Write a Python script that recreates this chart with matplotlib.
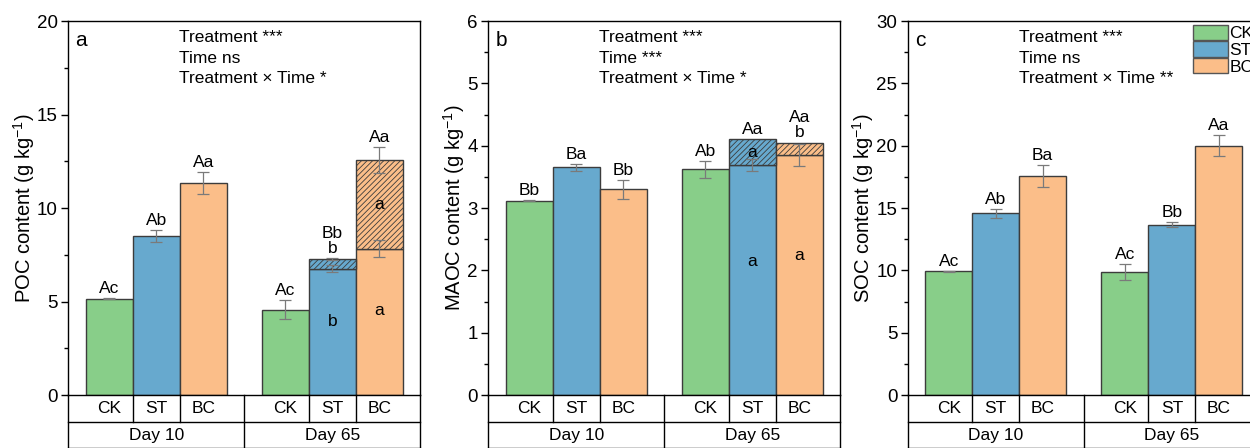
import numpy as np
import matplotlib.pyplot as plt
from matplotlib.patches import Patch
from matplotlib.ticker import MultipleLocator

plt.rcParams['font.family'] = ['Liberation Sans', 'DejaVu Sans']
plt.rcParams['mathtext.fontset'] = 'custom'
plt.rcParams['mathtext.rm'] = 'Liberation Sans'
plt.rcParams['mathtext.it'] = 'Liberation Sans:italic'
plt.rcParams['hatch.linewidth'] = 0.6

treatments = ["CK", "ST", "BC"]
days = ["Day 10", "Day 65"]
colors = ["#88CE89", "#67A9CE", "#FBBE89"]
edge = "#3c3c3c"
errc = "#7a7a7a"

# POC
poc_d10 = [5.16, 8.50, 11.32]
poc_d10_err = [0.03, 0.30, 0.58]
poc_d65_base = [4.57, 6.76, 7.82]
poc_d65_base_err = [0.50, 0.18, 0.46]
poc_d65_total = [4.57, 7.29, 12.57]
poc_d65_total_err = [0.0, 0.05, 0.70]
poc_lab_d10 = ["Ac", "Ab", "Aa"]
poc_lab_d65 = ["Ac", "Bb\nb", "Aa"]
poc_in_base = ["", "b", "a"]
poc_in_hatch = ["", "", "a"]
poc_stats = ["Treatment ***", "Time ns", "Treatment \u00d7 Time *"]

# MAOC
maoc_d10 = [3.12, 3.65, 3.30]
maoc_d10_err = [0.01, 0.05, 0.15]
maoc_d65_base = [3.62, 3.69, 3.85]
maoc_d65_base_err = [0.14, 0.10, 0.17]
maoc_d65_total = [3.62, 4.10, 4.05]
maoc_d65_total_err = [0.0, 0.0, 0.0]
maoc_lab_d10 = ["Bb", "Ba", "Bb"]
maoc_lab_d65 = ["Ab", "Aa", "Aa\nb"]
maoc_in_base = ["", "a", "a"]
maoc_in_hatch = ["", "a", ""]
maoc_stats = ["Treatment ***", "Time ***", "Treatment \u00d7 Time *"]

# SOC
soc_d10 = [9.92, 14.59, 17.57]
soc_d10_err = [0.05, 0.36, 0.87]
soc_d65 = [9.87, 13.65, 20.00]
soc_d65_err = [0.61, 0.20, 0.85]
soc_lab_d10 = ["Ac", "Ab", "Ba"]
soc_lab_d65 = ["Ac", "Bb", "Aa"]
soc_stats = ["Treatment ***", "Time ns", "Treatment \u00d7 Time **"]

x10 = np.array([1.0, 2.0, 3.0])
x65 = np.array([4.75, 5.75, 6.75])
xlo, xhi = 0.128, 7.62
split = 3.875
row = 0.0714


def draw_panel(ax, d10, d10_err, base, base_err, total, total_err,
               lab10, lab65, in_base, in_hatch, ymax, ystep, ylabel, letter, stats):
    base = np.array(base)
    total = np.array(total)
    ax.bar(x10, d10, width=1, color=colors, edgecolor=edge, lw=1, zorder=2)
    ax.bar(x65, base, width=1, color=colors, edgecolor=edge, lw=1, zorder=2)
    seg = total - base
    m = seg > 0
    ax.bar(x65[m], seg[m], bottom=base[m], width=1, color=np.array(colors)[m],
           edgecolor=edge, lw=1, hatch='//////', zorder=2)

    ek = dict(fmt='none', ecolor=errc, elinewidth=0.9, capsize=4, capthick=0.9, zorder=3)
    ax.errorbar(x10, d10, yerr=d10_err, **ek)
    ax.errorbar(x65, base, yerr=base_err, **ek)
    te = np.array(total_err)
    if (te > 0).any():
        ax.errorbar(x65[te > 0], total[te > 0], yerr=te[te > 0], **ek)

    # letters above bars
    tops10 = np.array(d10) + np.array(d10_err)
    tops65 = np.maximum(total + te, base + np.array(base_err))
    for x, t, s in zip(np.r_[x10, x65], np.r_[tops10, tops65], lab10 + lab65):
        ax.annotate(s, (x, t), xytext=(0, 1.5), textcoords='offset points',
                    ha='center', va='bottom', fontsize=12.5, linespacing=1.0)
    # letters inside segments
    for x, b, t, sb, sh in zip(x65, base, total, in_base, in_hatch):
        if sb:
            ax.text(x, b * 0.58, sb, ha='center', va='center', fontsize=12.5)
        if sh:
            ax.text(x, (b + t) / 2, sh, ha='center', va='center', fontsize=12.5)

    ax.set_xlim(xlo, xhi)
    ax.set_ylim(0, ymax)
    ax.set_xticks([])
    ax.yaxis.set_major_locator(MultipleLocator(ystep))
    ax.yaxis.set_minor_locator(MultipleLocator(ystep / 2))
    ax.tick_params(axis='y', which='major', direction='out', length=5, width=1,
                   labelsize=13.5, pad=2.5)
    ax.tick_params(axis='y', which='minor', direction='out', length=3, width=1)
    for sp in ax.spines.values():
        sp.set_linewidth(1)
    ax.set_ylabel(ylabel, fontsize=14.5, labelpad=0)

    ax.text(0.02, 0.949, letter, transform=ax.transAxes, fontsize=15, va='center')
    for i, s in enumerate(stats):
        ax.text(0.315, 0.957 - i * 0.056, s, transform=ax.transAxes,
                fontsize=12.5, va='center')

    # category table under the axis
    tr = ax.get_xaxis_transform()
    lk = dict(color='black', lw=1, clip_on=False, transform=tr)
    ax.plot([xlo, xhi], [-row, -row], **lk)
    ax.plot([xlo, xhi], [-2 * row, -2 * row], **lk)
    for xv in [1.5, 2.5, 5.25, 6.25]:
        ax.plot([xv, xv], [0, -row], **lk)
    for xv in [xlo, split, xhi]:
        ax.plot([xv, xv], [0, -2 * row], **lk)
    for x, s in zip(np.r_[x10, x65], treatments + treatments):
        ax.text(x, -row / 2, s, transform=tr, ha='center', va='center', fontsize=12.5)
    for x, s in zip([x10[1], x65[1]], days):
        ax.text(x, -1.5 * row, s, transform=tr, ha='center', va='center', fontsize=12.5)


fig = plt.figure(figsize=(12.5, 4.48), dpi=100)
lefts = [0.0546, 0.3906, 0.7262]
axs = [fig.add_axes([l, 0.1183, 0.2816, 0.8348]) for l in lefts]

draw_panel(axs[0], poc_d10, poc_d10_err, poc_d65_base, poc_d65_base_err,
           poc_d65_total, poc_d65_total_err, poc_lab_d10, poc_lab_d65,
           poc_in_base, poc_in_hatch, 20, 5, "POC content (g kg$^{-1}$)", "a", poc_stats)
draw_panel(axs[1], maoc_d10, maoc_d10_err, maoc_d65_base, maoc_d65_base_err,
           maoc_d65_total, maoc_d65_total_err, maoc_lab_d10, maoc_lab_d65,
           maoc_in_base, maoc_in_hatch, 6, 1, "MAOC content (g kg$^{-1}$)", "b", maoc_stats)
draw_panel(axs[2], soc_d10, soc_d10_err, soc_d65, soc_d65_err,
           soc_d65, [0, 0, 0], soc_lab_d10, soc_lab_d65,
           ["", "", ""], ["", "", ""], 30, 5, "SOC content (g kg$^{-1}$)", "c", soc_stats)

handles = [Patch(facecolor=c, edgecolor="#555555", lw=1) for c in colors]
axs[2].legend(handles, treatments, loc='upper left', bbox_to_anchor=(0.81, 0.99),
              frameon=False, fontsize=12.5, handlelength=2.0, handleheight=0.98,
              handletextpad=0.1, labelspacing=0.0, borderpad=0, borderaxespad=0)

fig.savefig("out.png", dpi=100)
